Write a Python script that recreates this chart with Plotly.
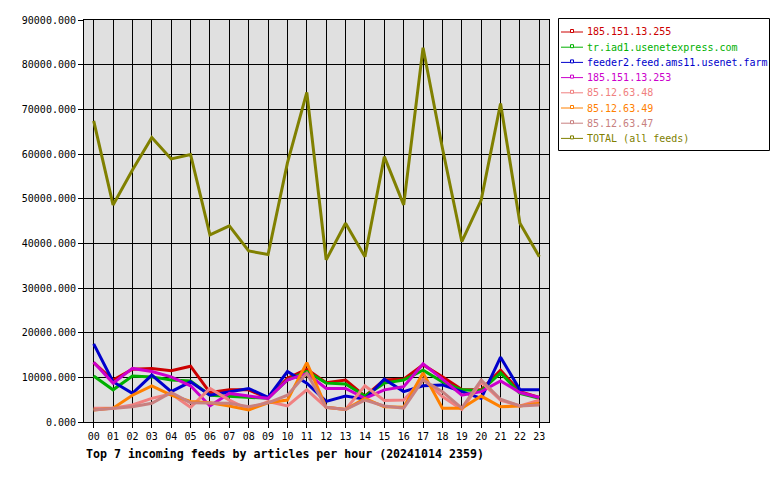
import plotly.graph_objects as go

hours = ["00","01","02","03","04","05","06","07","08","09","10","11",
         "12","13","14","15","16","17","18","19","20","21","22","23"]

names = ["185.151.13.255", "tr.iad1.usenetexpress.com", "feeder2.feed.ams11.usenet.farm",
         "185.151.13.253", "85.12.63.48", "85.12.63.49", "85.12.63.47", "TOTAL (all feeds)"]
colors = ["#cc0000", "#00b000", "#0000cc", "#cc00cc", "#f08080", "#ff8000", "#c88080", "#808000"]

s_255 = [13300, 9400, 11800, 12000, 11500, 12500, 6600, 7200, 7200, 5300, 9800, 11800,
         8800, 9400, 5800, 9400, 9600, 12800, 10100, 7300, 7200, 11600, 6800, 5500]
s_iad1 = [10300, 7200, 10300, 10100, 9400, 9200, 6000, 5800, 5500, 5300, 9400, 11300,
          8700, 8500, 5800, 8700, 9400, 11600, 9000, 7200, 7000, 11000, 6400, 5300]
s_ams11 = [17500, 9000, 6400, 10500, 6800, 9000, 6000, 6800, 7500, 5500, 11300, 8700,
           4600, 5800, 5100, 9600, 6800, 8100, 8300, 6800, 5300, 14500, 7200, 7200]
s_253 = [13400, 8700, 12000, 11300, 10100, 8100, 3600, 6400, 5800, 5300, 9400, 10900,
         7500, 7500, 5300, 7200, 7900, 13000, 9600, 6000, 6800, 9200, 6600, 5500]
s_48 = [3100, 3100, 3800, 5300, 6300, 3300, 7500, 4900, 2800, 4600, 3600, 7200,
        3300, 2800, 8100, 4800, 4900, 9600, 5700, 2800, 9000, 4900, 3600, 4900]
s_49 = [2700, 3100, 6000, 8100, 6000, 4600, 4300, 3600, 2700, 4300, 4900, 13300,
        3300, 2800, 5300, 3400, 3300, 11000, 3100, 3100, 5800, 3400, 3600, 4200]
s_47 = [2700, 3100, 3400, 4200, 6600, 4300, 4300, 4200, 3400, 4300, 6000, 10900,
        3300, 2800, 4900, 3600, 3100, 9400, 6800, 3100, 9400, 5100, 3600, 3800]
s_total = [67400, 48600, 56400, 63700, 58900, 59900, 41900, 43900, 38300, 37500, 58000, 73800,
           36300, 44500, 37000, 59400, 48600, 83800, 61300, 40400, 49700, 71300, 44500, 37000]

series = [s_255, s_iad1, s_ams11, s_253, s_48, s_49, s_47, s_total]
y_ticks = [0, 10000, 20000, 30000, 40000, 50000, 60000, 70000, 80000, 90000]

FONT = "DejaVu Sans Mono"
W, H = 780, 480
ML, MR, MT, MB = 84, 231, 20, 58
PW, PH = W - ML - MR, H - MT - MB

def px_x(px):
    return (px - ML) / PW

def px_y(py):
    return (H - MB - py) / PH

fig = go.Figure()
for nm, col, ys in zip(names, colors, series):
    fig.add_trace(go.Scatter(x=list(range(24)), y=ys, mode="lines", name=nm,
                             line=dict(color=col, width=3), showlegend=False,
                             hoverinfo="skip"))

# custom legend (box, line+marker symbol, coloured text)
shapes = [dict(type="rect", xref="paper", yref="paper",
               x0=px_x(558.5), x1=px_x(769.5), y0=px_y(18.5), y1=px_y(150.5),
               line=dict(color="black", width=1), fillcolor="white", layer="above")]
annotations = []
for i, (nm, col) in enumerate(zip(names, colors)):
    yc = 32 + i * 15.2
    shapes.append(dict(type="line", xref="paper", yref="paper",
                       x0=px_x(561), x1=px_x(583), y0=px_y(yc), y1=px_y(yc),
                       line=dict(color=col, width=1)))
    shapes.append(dict(type="rect", xref="paper", yref="paper",
                       x0=px_x(570.5), x1=px_x(573.5), y0=px_y(yc + 0.5), y1=px_y(yc - 2.5),
                       line=dict(color=col, width=1), fillcolor="white"))
    annotations.append(dict(text=nm, xref="paper", yref="paper",
                            x=px_x(585), y=px_y(yc), xanchor="left", yanchor="middle",
                            showarrow=False,
                            font=dict(family=FONT, size=10, color=col)))

annotations.append(dict(text="<b>Top 7 incoming feeds by articles per hour (20241014 2359)</b>",
                        xref="paper", yref="paper", x=0, y=-0.058,
                        xanchor="left", yanchor="top", showarrow=False,
                        font=dict(family=FONT, size=11.6, color="black")))

fig.update_layout(
    width=W, height=H,
    margin=dict(l=ML, r=MR, t=MT, b=MB, autoexpand=False),
    paper_bgcolor="white", plot_bgcolor="#e0e0e0",
    font=dict(family=FONT, size=10, color="black"),
    showlegend=False,
    xaxis=dict(range=[-0.5, 23.5], tickmode="array", tickvals=list(range(24)),
               ticktext=hours, showgrid=True, gridcolor="black", gridwidth=1,
               ticks="outside", ticklen=5, tickcolor="black",
               showline=True, linecolor="black", mirror=True, zeroline=False,
               fixedrange=True),
    yaxis=dict(range=[0, 90000], tickmode="array", tickvals=y_ticks,
               tickformat=".3f", showgrid=True, gridcolor="black", gridwidth=1,
               ticks="outside", ticklen=5, tickcolor="black",
               showline=True, linecolor="black", mirror=True, zeroline=False,
               fixedrange=True),
    shapes=shapes,
    annotations=annotations,
)

fig.write_html("out.html")
